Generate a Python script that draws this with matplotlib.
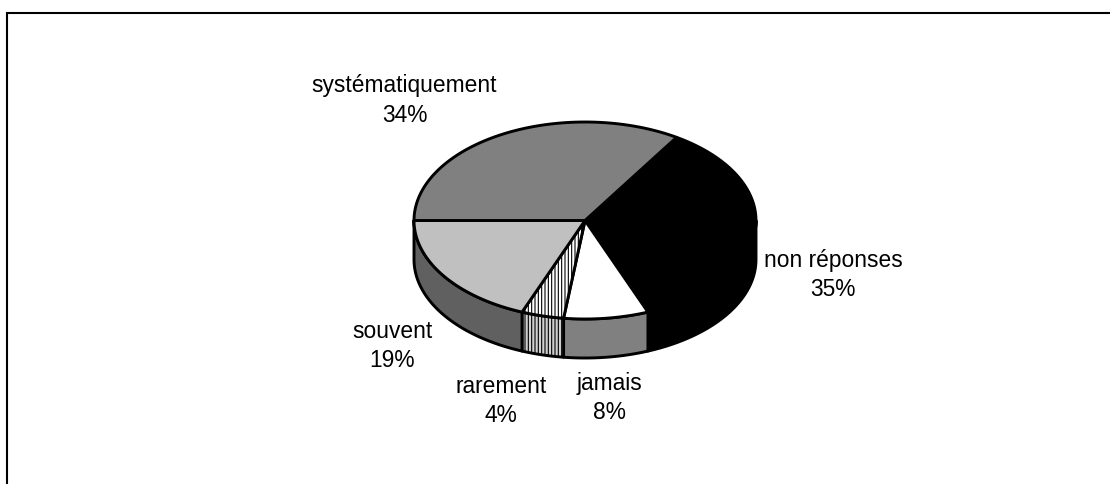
import matplotlib
matplotlib.use("Agg")
import matplotlib.pyplot as plt
from matplotlib.patches import Polygon
import numpy as np

labels = ['non réponses', 'jamais', 'rarement', 'souvent', 'systématiquement']
values = [35, 8, 4, 19, 34]
top_colors = ['#000000', '#ffffff', '#ffffff', '#c0c0c0', '#808080']
side_colors = ['#000000', '#808080', '#d0d0d0', '#606060', '#606060']
hatches = [None, None, '|||||', None, None]

# label positions in pixels
label_pos = [(833, 275), (609, 398), (501, 401), (392, 346), (404.5, 100.5)]

plt.rcParams['font.family'] = ['Liberation Sans', 'DejaVu Sans']
plt.rcParams['hatch.linewidth'] = 0.8

fig = plt.figure(figsize=(11.1, 4.85), dpi=100)
ax = fig.add_axes([0, 0, 1, 1])
ax.set_xlim(0, 1110)
ax.set_ylim(485, 0)
ax.axis('off')

# outer frame, only top and left fall inside the picture
ax.plot([6.7, 6.7, 1110], [485, 14, 14], color='black', linewidth=1.5, solid_joinstyle='miter')

# pie geometry
cx, cy = 585, 221.5
rx, ry = 171, 98.5
depth = 39
start = 57.6


def rim(a0, a1, dy=0):
    t = np.radians(np.linspace(a0, a1, 80))
    return np.column_stack([cx + rx * np.cos(t), cy - ry * np.sin(t) + dy])


# slice angles, clockwise from the start
edges = start - np.cumsum([0] + values) * 3.6

# side walls first, only the front half is visible
for i in range(len(values)):
    a0, a1 = min(edges[i], 0), max(edges[i + 1], -180)
    if a0 <= a1:
        continue
    pts = np.vstack([rim(a0, a1), rim(a1, a0, depth)])
    ax.add_patch(Polygon(pts, closed=True, facecolor=side_colors[i], edgecolor='black',
                         linewidth=2.1, hatch=hatches[i], joinstyle='round'))

# top of the pie
for i in range(len(values)):
    pts = np.vstack([[cx, cy], rim(edges[i], edges[i + 1])])
    ax.add_patch(Polygon(pts, closed=True, facecolor=top_colors[i], edgecolor='black',
                         linewidth=2.1, hatch=hatches[i], joinstyle='round'))

# labels
for lab, val, (x, y) in zip(labels, values, label_pos):
    ax.text(x, y, f"{lab}\n{val}%", ha='center', va='center', fontsize=16.4,
            linespacing=1.36, color='black')

plt.savefig("out.png", dpi=100)
